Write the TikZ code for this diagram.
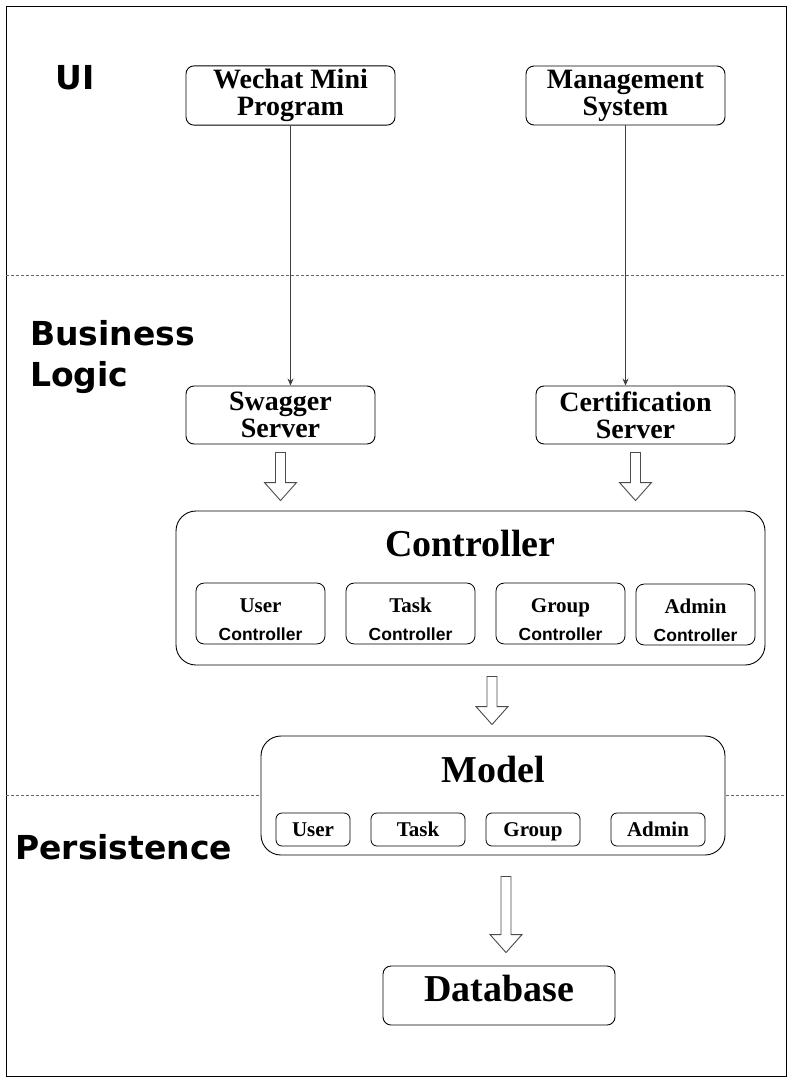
\documentclass[tikz,border=0pt]{standalone}
\usepackage{fontspec}
\usetikzlibrary{arrows.meta,calc}
\setmainfont{Liberation Serif}
\newfontfamily\layerfont{DejaVu Sans}
\newfontfamily\ctrlfont{Liberation Sans}

\tikzset{
  box/.style={draw, rounded corners=8pt, line width=.9pt, fill=white, align=center,
    font={\fontsize{28}{27}\selectfont\bfseries}},
  group/.style={draw, rounded corners=20pt, line width=.9pt, fill=white},
  title/.style={inner sep=0pt, font={\fontsize{38}{38}\selectfont\bfseries}},
  ctrlbox/.style={draw, rounded corners=8pt, line width=.8pt, align=center,
    minimum width=129pt, minimum height=59pt, font={\fontsize{21}{28}\selectfont\bfseries}},
  modelbox/.style={draw, rounded corners=6pt, line width=.8pt, minimum height=33pt,
    text height=15pt, text depth=1pt, font={\fontsize{21}{21}\selectfont\bfseries}},
  layer/.style={inner sep=0pt, align=left, font={\layerfont\fontsize{33}{41}\selectfont\bfseries}},
  link/.style={draw=black!75, line width=.8pt, -{Stealth[length=7pt,width=6pt]}},
  hollow/.style={draw=black!70, line width=.9pt, fill=white},
  layerline/.style={draw=black!60, line width=.8pt, dash pattern=on 3pt off 2pt}
}

\newcommand{\ctrltext}[1]{\rule{0pt}{26pt}#1\\{\ctrlfont\fontsize{17.5}{28}\selectfont Controller}}
\newcommand{\fatarrow}[2]{%
  \draw[hollow] ($(#1)+(-5,0)$) -- ($(#2)+(-5,-18)$) -- ($(#2)+(-16,-18)$) -- (#2)
    -- ($(#2)+(16,-18)$) -- ($(#2)+(5,-18)$) -- ($(#1)+(5,0)$) -- cycle;}

\begin{document}
\begin{tikzpicture}[x=1pt,y=-1pt]
  \useasboundingbox (0,0) rectangle (793,1081);
  \draw[line width=.9pt] (6,6) rectangle (786,1076);

  % layers
  \draw[layerline] (6,275) -- (786,275);
  \draw[layerline] (6,795) -- (786,795);
  \node[layer] (ui) at (75,78) {UI};
  \node[layer, anchor=west] (logic) at (30,357) {Business\\Logic};
  \node[layer, anchor=west] (persist) at (15,847) {Persistence};

  % UI
  \node[box, minimum width=209pt, minimum height=59pt] (wechat) at (290.5,95.5) {Wechat Mini\\Program};
  \node[box, minimum width=199pt, minimum height=59pt] (manage) at (625.5,95.5) {Management\\System};

  % servers
  \node[box, minimum width=189pt, minimum height=58pt] (swagger) at (280.5,415) {Swagger\\Server};
  \node[box, minimum width=199pt, minimum height=58pt] (cert) at (635.5,415) {Certification\\Server};
  \draw[link] (wechat.south) -- (wechat.south |- swagger.north);
  \draw[link] (manage.south) -- (manage.south |- cert.north);

  % controller
  \node[group, minimum width=589pt, minimum height=154pt] (ctrl) at (470.5,588) {};
  \node[title] (ctrltitle) at (470.5,543) {Controller};
  \node[ctrlbox] (userctrl) at (260.5,613.5) {\ctrltext{User}};
  \node[ctrlbox] (taskctrl) at (410.5,613.5) {\ctrltext{Task}};
  \node[ctrlbox] (groupctrl) at (560.5,613.5) {\ctrltext{Group}};
  \node[ctrlbox, minimum width=119pt] (adminctrl) at (695.5,614.5) {\ctrltext{Admin}};

  % model
  \node[group, minimum width=464pt, minimum height=119pt] (model) at (493,795.5) {};
  \node[title] (modeltitle) at (493,769) {Model};
  \node[modelbox, minimum width=74pt] (user) at (313,829.5) {User};
  \node[modelbox, minimum width=94pt] (task) at (418,829.5) {Task};
  \node[modelbox, minimum width=94pt] (grp) at (533,829.5) {Group};
  \node[modelbox, minimum width=94pt] (admin) at (658,829.5) {Admin};

  % database
  \node[box, minimum width=232pt, minimum height=59pt, text depth=15pt,
    font={\fontsize{38}{38}\selectfont\bfseries}] (db) at (499,995.5) {Database};

  % hollow arrows
  \coordinate (s1) at ($(swagger.south)+(0,8)$);
  \coordinate (e1) at ($(s1 |- ctrl.north)+(0,-10)$);
  \coordinate (s2) at ($(cert.south)+(0,8)$);
  \coordinate (e2) at ($(s2 |- ctrl.north)+(0,-10)$);
  \coordinate (s3) at ($(ctrl.south -| model.north)+(-1,11)$);
  \coordinate (e3) at ($(s3 |- model.north)+(0,-11)$);
  \coordinate (s4) at ($(model.south -| db.north)+(7,21)$);
  \coordinate (e4) at ($(s4 |- db.north)+(0,-13)$);
  \fatarrow{s1}{e1}
  \fatarrow{s2}{e2}
  \fatarrow{s3}{e3}
  \fatarrow{s4}{e4}
\end{tikzpicture}
\end{document}
